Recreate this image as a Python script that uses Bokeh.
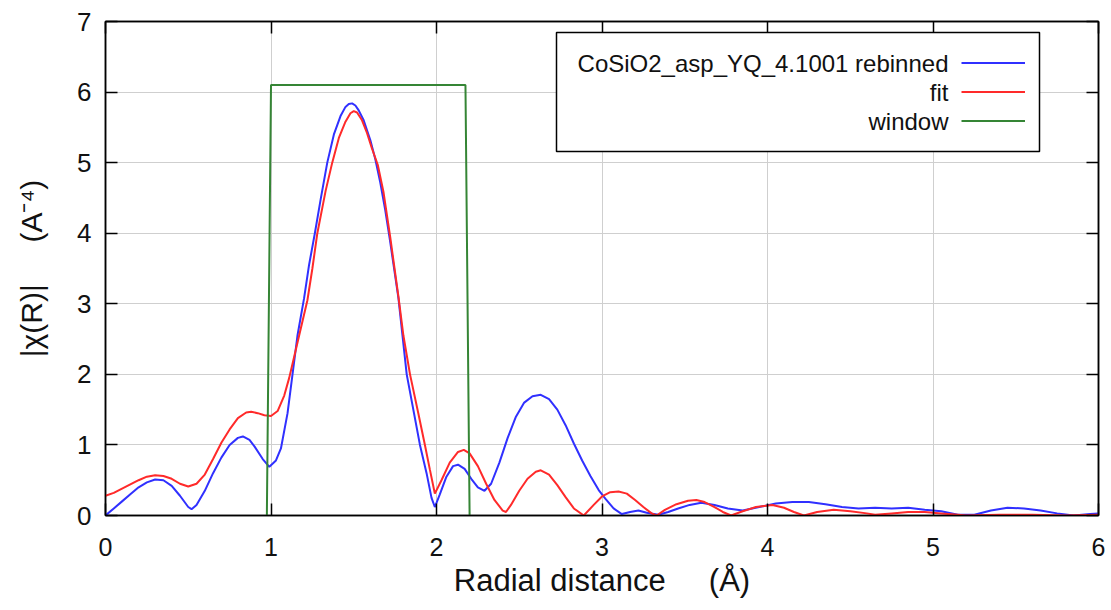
from bokeh.plotting import figure
from bokeh.models import (Label, BoxAnnotation, Legend, LegendItem, LinearAxis,
                          FixedTicker)
from bokeh.core.properties import value
from bokeh.embed import file_html
from bokeh.resources import INLINE

# ---------------- data ----------------
data_r = [0.00, 0.05, 0.10, 0.15, 0.20, 0.25, 0.30, 0.35, 0.40, 0.45, 0.50, 0.52,
          0.55, 0.60, 0.65, 0.70, 0.75, 0.80, 0.83, 0.87, 0.90, 0.95, 0.99, 1.03,
          1.06, 1.10, 1.13, 1.16, 1.20, 1.23, 1.265, 1.30, 1.34, 1.38, 1.42, 1.45,
          1.47, 1.49, 1.51, 1.53, 1.56, 1.60, 1.63, 1.66, 1.69, 1.72, 1.77, 1.82,
          1.86, 1.90, 1.94, 1.97, 1.99,
          2.02, 2.06, 2.10, 2.13, 2.17, 2.21, 2.25, 2.29, 2.33, 2.38, 2.43, 2.48,
          2.53, 2.58, 2.63, 2.68, 2.73, 2.78, 2.83, 2.88, 2.93, 2.98, 3.02, 3.07,
          3.12, 3.17, 3.22, 3.27, 3.34, 3.40, 3.46, 3.53, 3.60, 3.68, 3.76, 3.85,
          3.95, 4.05, 4.15, 4.25, 4.35, 4.45, 4.55, 4.65, 4.75, 4.85, 4.95, 5.05,
          5.15, 5.25, 5.35, 5.45, 5.55, 5.65, 5.75, 5.85, 5.95, 6.00]
data_chi = [0.00, 0.10, 0.20, 0.30, 0.40, 0.47, 0.51, 0.50, 0.42, 0.28, 0.12, 0.09,
            0.15, 0.35, 0.60, 0.82, 1.00, 1.10, 1.12, 1.07, 0.98, 0.80, 0.69, 0.78,
            0.95, 1.45, 2.00, 2.55, 3.08, 3.55, 4.00, 4.48, 5.00, 5.40, 5.66, 5.79,
            5.83, 5.84, 5.81, 5.74, 5.60, 5.32, 5.05, 4.72, 4.33, 3.88, 3.08, 2.00,
            1.50, 1.00, 0.60, 0.25, 0.12,
            0.30, 0.55, 0.70, 0.72, 0.66, 0.52, 0.40, 0.35, 0.45, 0.75, 1.10, 1.40,
            1.60, 1.69, 1.71, 1.65, 1.50, 1.28, 1.02, 0.78, 0.56, 0.36, 0.24, 0.10,
            0.02, 0.05, 0.07, 0.04, 0.01, 0.05, 0.10, 0.15, 0.18, 0.15, 0.10, 0.07,
            0.12, 0.17, 0.19, 0.19, 0.16, 0.12, 0.10, 0.11, 0.10, 0.11, 0.08, 0.06,
            0.01, 0.01, 0.07, 0.11, 0.10, 0.07, 0.03, 0.00, 0.02, 0.03]

fit_r = [0.00, 0.05, 0.10, 0.15, 0.20, 0.25, 0.30, 0.35, 0.40, 0.45, 0.50, 0.55,
         0.60, 0.65, 0.70, 0.75, 0.80, 0.85, 0.88, 0.92, 0.96, 1.00, 1.04, 1.08,
         1.11, 1.14, 1.18, 1.22, 1.25, 1.28, 1.33, 1.37, 1.41, 1.45, 1.48, 1.50,
         1.52, 1.55, 1.58, 1.61, 1.645, 1.68, 1.72, 1.77, 1.80, 1.84, 1.89, 1.93,
         1.96, 1.99,
         2.03, 2.08, 2.13, 2.165, 2.20, 2.25, 2.30, 2.35, 2.40, 2.42, 2.45, 2.50,
         2.55, 2.60, 2.63, 2.68, 2.73, 2.78, 2.83, 2.89, 2.95, 3.00, 3.05, 3.10,
         3.15, 3.20, 3.25, 3.30, 3.33, 3.38, 3.45, 3.52, 3.57, 3.62, 3.68, 3.73,
         3.78, 3.85, 3.93, 4.03, 4.10, 4.16, 4.22, 4.30, 4.40, 4.50, 4.60, 4.65,
         4.75, 4.85, 4.95, 5.05, 5.15, 5.20, 5.40, 5.60, 5.80, 6.00]
fit_chi = [0.28, 0.32, 0.38, 0.44, 0.50, 0.55, 0.57, 0.56, 0.52, 0.45, 0.41, 0.45,
           0.58, 0.80, 1.03, 1.22, 1.38, 1.46, 1.47, 1.45, 1.42, 1.41, 1.48, 1.70,
           1.95, 2.25, 2.65, 3.05, 3.50, 4.00, 4.60, 5.00, 5.35, 5.58, 5.70, 5.73,
           5.71, 5.60, 5.42, 5.20, 4.97, 4.58, 3.95, 3.10, 2.55, 2.00, 1.45, 1.00,
           0.65, 0.31,
           0.50, 0.75, 0.90, 0.93, 0.88, 0.70, 0.45, 0.22, 0.07, 0.05, 0.15, 0.35,
           0.52, 0.62, 0.64, 0.58, 0.43, 0.26, 0.10, 0.00, 0.15, 0.27, 0.33, 0.34,
           0.31, 0.22, 0.12, 0.03, 0.00, 0.08, 0.16, 0.21, 0.22, 0.19, 0.12, 0.05,
           0.00, 0.06, 0.12, 0.15, 0.11, 0.05, 0.00, 0.05, 0.08, 0.06, 0.03, 0.01,
           0.03, 0.05, 0.05, 0.03, 0.01, 0.00, 0.01, 0.01, 0.00, 0.01]

window_r = [0.975, 1.0, 2.175, 2.2]
window_val = [0.0, 6.1, 6.1, 0.0]

x_ticks = [0, 1, 2, 3, 4, 5, 6]
y_ticks = [0, 1, 2, 3, 4, 5, 6, 7]
series_labels = ["CoSiO2_asp_YQ_4.1001 rebinned", "fit", "window"]
series_colors = ["#3030ff", "#ff2a2a", "#358535"]

FONT = "Liberation Sans"
NB = "\u00a0"

p = figure(width=1108, height=600, x_range=(0, 6), y_range=(0, 7),
           output_backend="svg", toolbar_location=None,
           min_border_left=105, min_border_right=10, min_border_top=21,
           min_border_bottom=83, background_fill_color="white",
           border_fill_color="white")

p.outline_line_color = "black"
p.outline_line_width = 1.5

# grid
p.xgrid.ticker = FixedTicker(ticks=x_ticks)
p.ygrid.ticker = FixedTicker(ticks=y_ticks)
for g in (p.xgrid, p.ygrid):
    g.grid_line_color = "#cfcfcf"
    g.grid_line_width = 1

def style_axis(ax, ticks, font_size, labels=True):
    ax.ticker = FixedTicker(ticks=ticks)
    ax.axis_line_color = "black"
    ax.axis_line_width = 1.5
    ax.major_tick_in = 12
    ax.major_tick_out = 0
    ax.major_tick_line_color = "black"
    ax.major_tick_line_width = 1.5
    ax.minor_tick_line_color = None
    ax.major_label_text_font = FONT
    ax.major_label_text_font_size = font_size
    ax.major_label_text_color = "#111111"
    if not labels:
        ax.major_label_overrides = {t: "" for t in ticks}
        ax.major_label_standoff = 0

style_axis(p.xaxis[0], x_ticks, "25px")
style_axis(p.yaxis[0], y_ticks, "26px")
p.xaxis[0].major_label_standoff = 22
p.yaxis[0].major_label_standoff = 14

p.xaxis[0].axis_label = "Radial distance" + NB * 5 + "(Å)"
p.yaxis[0].axis_label = "|χ(R)|" + NB * 5 + "(A⁻⁴)"
for ax in (p.xaxis[0], p.yaxis[0]):
    ax.axis_label_text_font = FONT
    ax.axis_label_text_font_style = "normal"
    ax.axis_label_text_color = "#111111"
p.xaxis[0].axis_label_text_font_size = "31px"
p.yaxis[0].axis_label_text_font_size = "30px"
p.xaxis[0].axis_label_standoff = 4
p.yaxis[0].axis_label_standoff = 26

top_ax = LinearAxis()
right_ax = LinearAxis()
style_axis(top_ax, x_ticks, "1px", labels=False)
style_axis(right_ax, y_ticks, "1px", labels=False)
p.add_layout(top_ax, "above")
p.add_layout(right_ax, "right")

# curves
r_data = p.line(data_r, data_chi, line_color=series_colors[0], line_width=2)
r_fit = p.line(fit_r, fit_chi, line_color=series_colors[1], line_width=2)
r_win = p.line(window_r, window_val, line_color=series_colors[2], line_width=2)

# legend box (screen units relative to frame)
box = BoxAnnotation(left=451, right=934, bottom=364, top=483,
                    left_units="screen", right_units="screen",
                    bottom_units="screen", top_units="screen",
                    fill_color="white", fill_alpha=1.0,
                    line_color="black", line_alpha=1.0, line_width=1.5,
                    level="annotation")
p.add_layout(box)

row_y = [452, 423, 394]
for lab, yy in zip(series_labels, row_y):
    p.add_layout(Label(x=843, y=yy, x_units="screen", y_units="screen",
                       text=lab, text_align="right", text_baseline="middle",
                       text_font=FONT, text_font_size="24px",
                       text_color="#111111"))

legend = Legend(items=[LegendItem(label=value(" "), renderers=[r])
                       for r in (r_data, r_fit, r_win)],
                location=(856, 380), glyph_width=64, glyph_height=29,
                label_height=29, label_width=1, label_standoff=0,
                spacing=0, padding=0, margin=0,
                border_line_alpha=0, background_fill_alpha=0,
                label_text_font_size="4px")
p.add_layout(legend)

open("out.html", "w").write(file_html(p, INLINE))
